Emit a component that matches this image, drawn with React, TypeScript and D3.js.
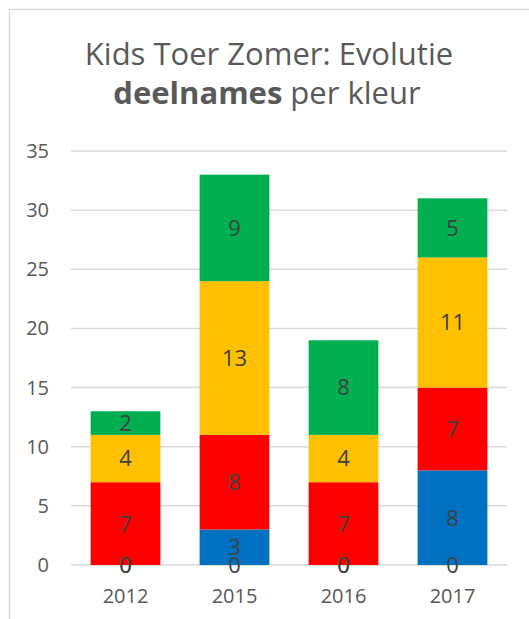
import React from 'react';
import * as d3 from 'd3';

const categories = ['2012', '2015', '2016', '2017'];
const seriesNames = ['Wit', 'Blauw', 'Rood', 'Geel', 'Groen'];
const wit = [0, 0, 0, 0];
const blauw = [0, 3, 0, 8];
const rood = [7, 8, 7, 7];
const geel = [4, 13, 4, 11];
const groen = [2, 9, 8, 5];
const yTicks = [0, 5, 10, 15, 20, 25, 30, 35];
const seriesColors = ['#FFFFFF', '#0070C0', '#FF0000', '#FFC000', '#00B050'];

const W = 529;
const H = 619;
const FONT = "'Open Sans', sans-serif";

export default function App() {
  const values = [wit, blauw, rood, geel, groen];
  const rows = categories.map((c, i) => {
    const r: any = { cat: c };
    seriesNames.forEach((s, j) => (r[s] = values[j][i]));
    return r;
  });
  const stacked = d3.stack<any>().keys(seriesNames)(rows);

  const x = d3.scaleBand().domain(categories).range([71, 507]).paddingInner(0.36).paddingOuter(0.18);
  const y = d3.scaleLinear().domain([0, 35]).range([565, 151]);

  return (
    <div style={{ position: 'fixed', left: 0, top: 0 }}>
      <svg width={W} height={H} style={{ display: 'block', background: '#fff' }}>
        <rect x={9.5} y={9.5} width={W + 20} height={H + 20} fill="#fff" stroke="#D9D9D9" strokeWidth={1.5} />
        <text x={269} y={65} textAnchor="middle" fontFamily={FONT} fontSize={31} fill="#595959">
          Kids Toer Zomer: Evolutie
        </text>
        <text x={267} y={104} textAnchor="middle" fontFamily={FONT} fontSize={31} fill="#595959">
          <tspan fontWeight="bold">deelnames</tspan> per kleur
        </text>
        {yTicks.map((t) => (
          <g key={t}>
            <line x1={71} x2={507} y1={y(t)} y2={y(t)} stroke="#D9D9D9" strokeWidth={1.5} />
            <text x={49} y={y(t)} dy="0.35em" textAnchor="end" fontFamily={FONT} fontSize={20} fill="#595959">
              {t}
            </text>
          </g>
        ))}
        {stacked.map((s, si) => (
          <g key={s.key} fill={seriesColors[si]}>
            {s.map((d, i) => (
              <rect
                key={i}
                x={x(categories[i])}
                y={y(d[1])}
                width={x.bandwidth()}
                height={y(d[0]) - y(d[1])}
              />
            ))}
          </g>
        ))}
        {stacked.map((s, si) => (
          <g key={'l' + s.key}>
            {s.map((d, i) => (
              <text
                key={i}
                x={(x(categories[i]) as number) + x.bandwidth() / 2}
                y={(y(d[0]) + y(d[1])) / 2}
                dy="0.36em"
                textAnchor="middle"
                fontFamily={FONT}
                fontSize={22}
                fill="#404040"
              >
                {d[1] - d[0]}
              </text>
            ))}
          </g>
        ))}
        {categories.map((c) => (
          <text
            key={c}
            x={(x(c) as number) + x.bandwidth() / 2}
            y={603}
            textAnchor="middle"
            fontFamily={FONT}
            fontSize={20}
            fill="#595959"
          >
            {c}
          </text>
        ))}
      </svg>
    </div>
  );
}
